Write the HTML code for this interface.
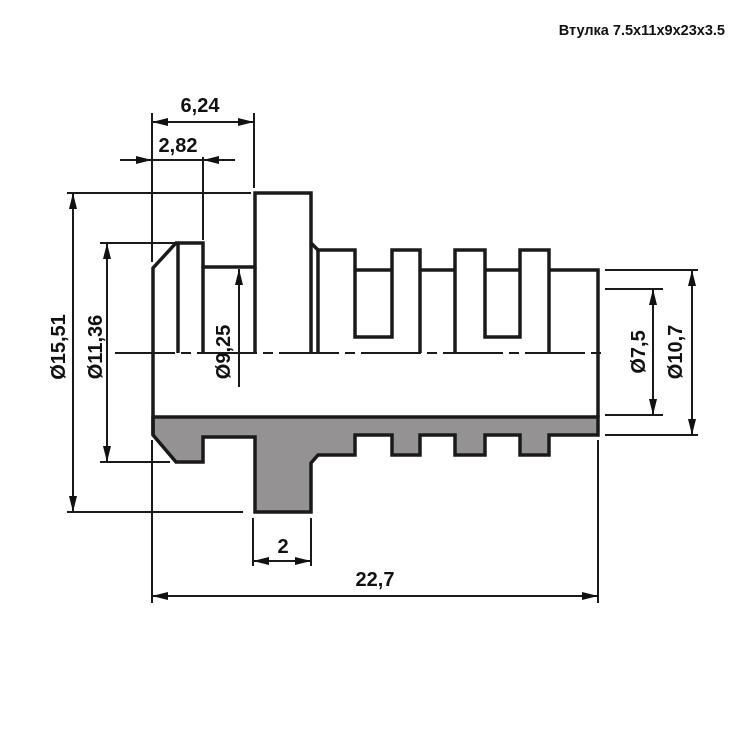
<!DOCTYPE html>
<html><head><meta charset="utf-8"><style>
html,body{margin:0;padding:0;background:#fff;}
svg{display:block}
text{font-family:"Liberation Sans",Arial,sans-serif;font-weight:bold;fill:#111}
</style></head><body>
<svg width="750" height="750" viewBox="0 0 750 750" xmlns="http://www.w3.org/2000/svg">
<defs>
<marker id="a" viewBox="0 0 16 8" refX="16" refY="4" markerWidth="16" markerHeight="8" markerUnits="userSpaceOnUse" orient="auto-start-reverse">
<path d="M0,0 L16,4 L0,8 Z" fill="#111"/></marker>
</defs>
<text x="725" y="35" font-size="14.5" text-anchor="end">Втулка 7.5x11x9x23x3.5</text>

<path d="M153,417 L598,417 L598,435 L549,435 L549,455 L520,455 L520,435 L485,435 L485,455 L455,455 L455,435 L420,435 L420,455 L392,455 L392,435 L355,435 L355,455 L318,455 L311,463 L311,512 L255,512 L255,437 L203,437 L203,462 L176,462 L153,435 Z" fill="#949292" stroke="#1a1a1a" stroke-width="3.5" stroke-linejoin="miter"/>

<g fill="none" stroke="#1a1a1a" stroke-width="3.5" stroke-linejoin="miter">
<path d="M153,435 L153,268 L176,243 L203,243 L203,267 L255,267 L255,193 L311,193 L311,243 L318,250 L355,250 L355,337 L392,337 L392,250 L420,250 L420,353"/>
<path d="M455,353 L455,250 L485,250 L485,337 L520,337 L520,250 L549,250 L549,353"/>
<path d="M549,270 L598,270 L598,417"/>
<path d="M355,270 L392,270 M420,270 L455,270 M485,270 L520,270"/>
<path d="M178,243 L178,353 M203,267 L203,353 M255,267 L255,353 M311,243 L311,353 M318,250 L318,353"/>
</g>
<g stroke="#1a1a1a" stroke-width="2" fill="none">
<path d="M115,353 L605,353" stroke-dasharray="60,6,10,6"/>
<path d="M152,113 L152,262 M254,113 L254,188 M203,157 L203,240"/>
<path d="M67,193 L251,193 M67,512 L243,512 M100,243 L175,243 M100,462 L170,462"/>
<path d="M605,270 L698,270 M605,435 L698,435 M605,289 L663,289 M605,415 L663,415"/>
<path d="M253,518 L253,566 M311,518 L311,566 M152,440 L152,603 M598,440 L598,603"/>
<path d="M152,122 L254,122" marker-start="url(#a)" marker-end="url(#a)"/>
<path d="M120,160 L152,160" marker-end="url(#a)"/>
<path d="M235,160 L203,160" marker-end="url(#a)"/>
<path d="M152,160 L203,160"/>
<path d="M73,193 L73,512" marker-start="url(#a)" marker-end="url(#a)"/>
<path d="M107,243 L107,462" marker-start="url(#a)" marker-end="url(#a)"/>
<path d="M239,387 L239,269" marker-end="url(#a)"/>
<path d="M653,289 L653,415" marker-start="url(#a)" marker-end="url(#a)"/>
<path d="M692,270 L692,435" marker-start="url(#a)" marker-end="url(#a)"/>
<path d="M253,561 L311,561" marker-start="url(#a)" marker-end="url(#a)"/>
<path d="M152,596 L598,596" marker-start="url(#a)" marker-end="url(#a)"/>
</g>
<text x="200" y="112" font-size="20" text-anchor="middle">6,24</text>
<text x="178" y="152" font-size="20" text-anchor="middle">2,82</text>
<text x="283" y="553" font-size="20" text-anchor="middle">2</text>
<text x="375" y="586" font-size="20" text-anchor="middle">22,7</text>
<text transform="translate(65,347) rotate(-90)" font-size="20" text-anchor="middle">Ø15,51</text>
<text transform="translate(102,347) rotate(-90)" font-size="20" text-anchor="middle">Ø11,36</text>
<text transform="translate(230,352) rotate(-90)" font-size="20" text-anchor="middle">Ø9,25</text>
<text transform="translate(645,352) rotate(-90)" font-size="20" text-anchor="middle">Ø7,5</text>
<text transform="translate(682,352) rotate(-90)" font-size="20" text-anchor="middle">Ø10,7</text>
</svg>
</body></html>
